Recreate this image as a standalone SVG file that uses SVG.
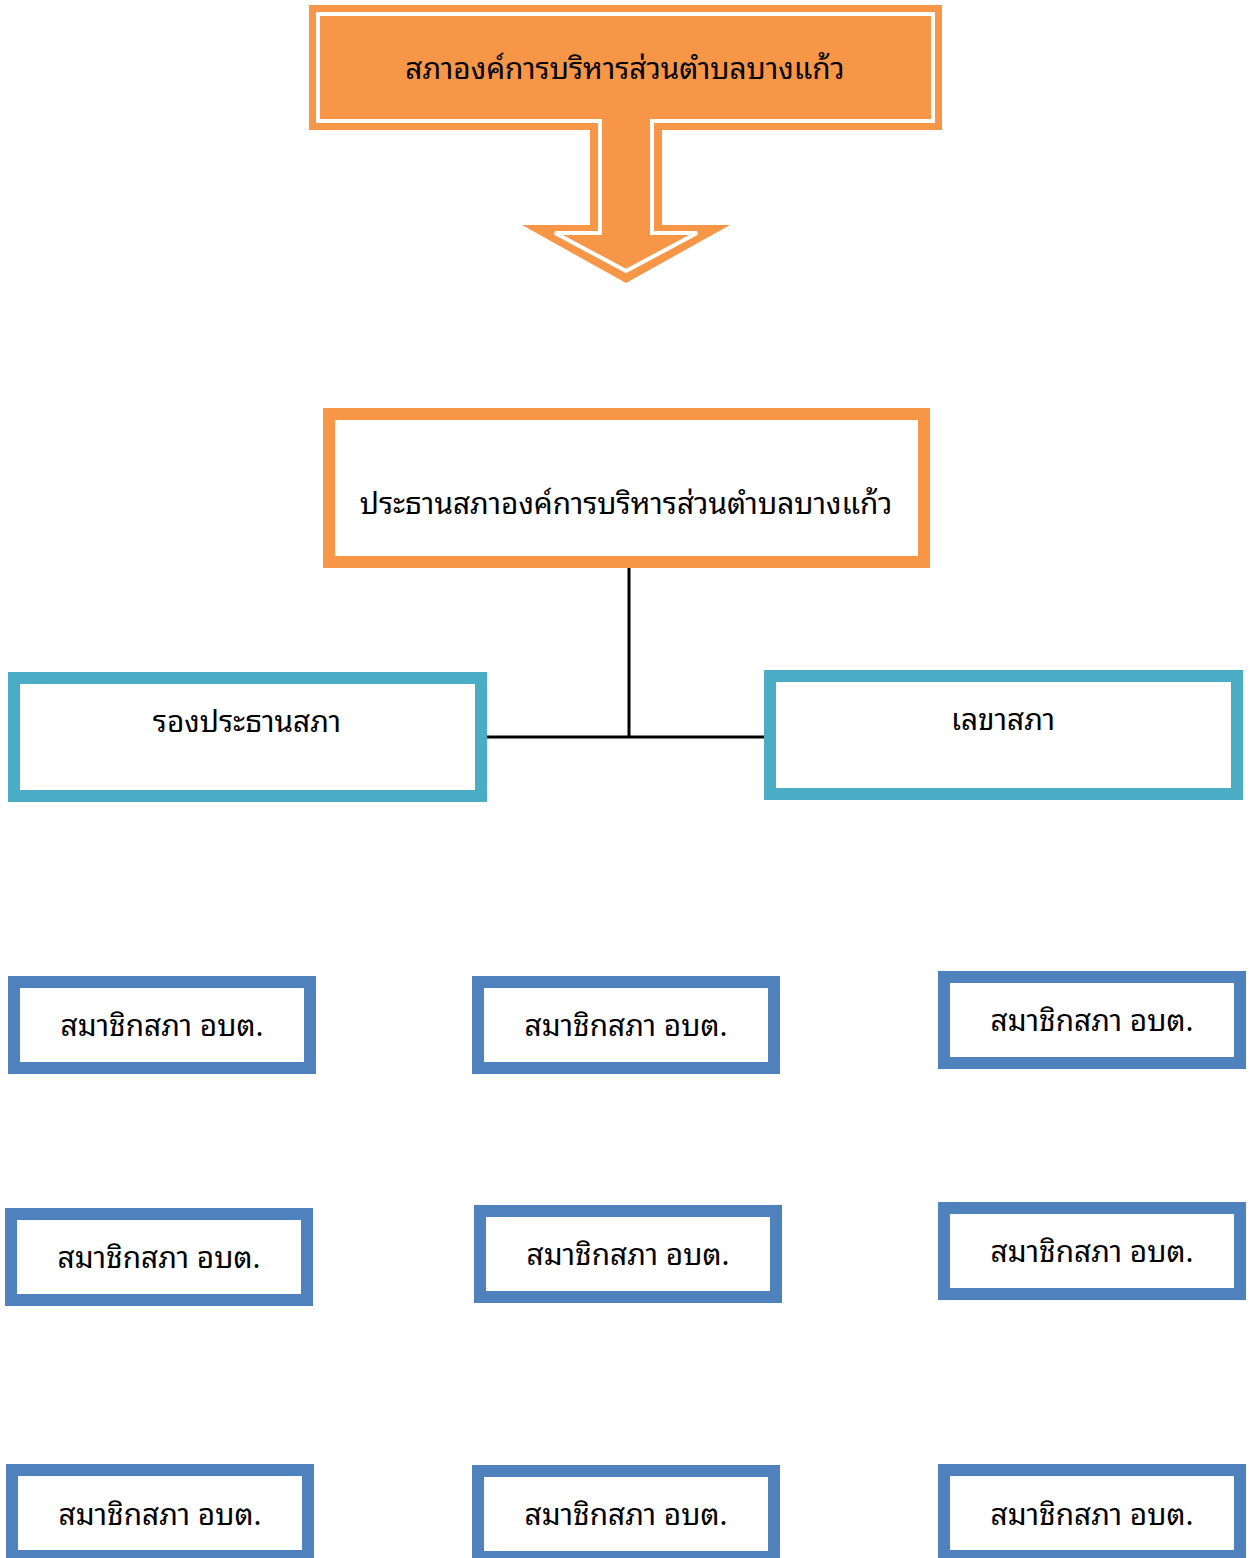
<svg xmlns="http://www.w3.org/2000/svg" width="1255" height="1558" viewBox="0 0 1255 1558">
<style>
text{font-family:"Noto Sans Thai Looped","Noto Sans Thai","Noto Sans","DejaVu Sans",sans-serif;font-size:29.8px;fill:#000;text-anchor:middle}
.orange{fill:none;stroke:#F79646;stroke-width:12}
.teal{fill:#fff;stroke:#4BACC6;stroke-width:12}
.blue{fill:#fff;stroke:#4F81BD;stroke-width:12}
.conn{stroke:#000;stroke-width:3;fill:none}
</style>
<rect width="1255" height="1558" fill="#fff"/>
<g id="council">
<path d="M309,5 H942 V130 H662 V225 H730 L626,283 L522,225 H590 V130 H309 Z" fill="#F79646"/>
<path d="M318,14 H933 V121 H652 V233 H697 L626,271 L555,233 H600 V121 H318 Z" fill="#F79646" stroke="#fff" stroke-width="4"/>
<text x="625" y="79">สภาองค์การบริหารส่วนตำบลบางแก้ว</text>
</g>
<g id="connectors">
<line class="conn" x1="629" y1="562" x2="629" y2="738"/>
<line class="conn" x1="487" y1="737" x2="765" y2="737"/>
</g>
<g id="chair">
<rect class="orange" x="329" y="414" width="595" height="148" fill="#fff"/>
<text x="626" y="514">ประธานสภาองค์การบริหารส่วนตำบลบางแก้ว</text>
</g>
<g id="vice-chair">
<rect class="teal" x="14" y="678" width="467" height="118"/>
<text x="247" y="732">รองประธานสภา</text>
</g>
<g id="secretary">
<rect class="teal" x="770" y="676" width="467" height="118"/>
<text x="1003" y="730">เลขาสภา</text>
</g>
<g id="member-1"><rect class="blue" x="14" y="982" width="296" height="86"/><text x="162" y="1036">สมาชิกสภา อบต.</text></g>
<g id="member-2"><rect class="blue" x="478" y="982" width="296" height="86"/><text x="626" y="1036">สมาชิกสภา อบต.</text></g>
<g id="member-3"><rect class="blue" x="944" y="977" width="296" height="86"/><text x="1092" y="1031">สมาชิกสภา อบต.</text></g>
<g id="member-4"><rect class="blue" x="11" y="1214" width="296" height="86"/><text x="159" y="1268">สมาชิกสภา อบต.</text></g>
<g id="member-5"><rect class="blue" x="480" y="1211" width="296" height="86"/><text x="628" y="1265">สมาชิกสภา อบต.</text></g>
<g id="member-6"><rect class="blue" x="944" y="1208" width="296" height="86"/><text x="1092" y="1262">สมาชิกสภา อบต.</text></g>
<g id="member-7"><rect class="blue" x="12" y="1470" width="296" height="86"/><text x="160" y="1525">สมาชิกสภา อบต.</text></g>
<g id="member-8"><rect class="blue" x="478" y="1471" width="296" height="86"/><text x="626" y="1525">สมาชิกสภา อบต.</text></g>
<g id="member-9"><rect class="blue" x="944" y="1470" width="296" height="86"/><text x="1092" y="1525">สมาชิกสภา อบต.</text></g>
</svg>
